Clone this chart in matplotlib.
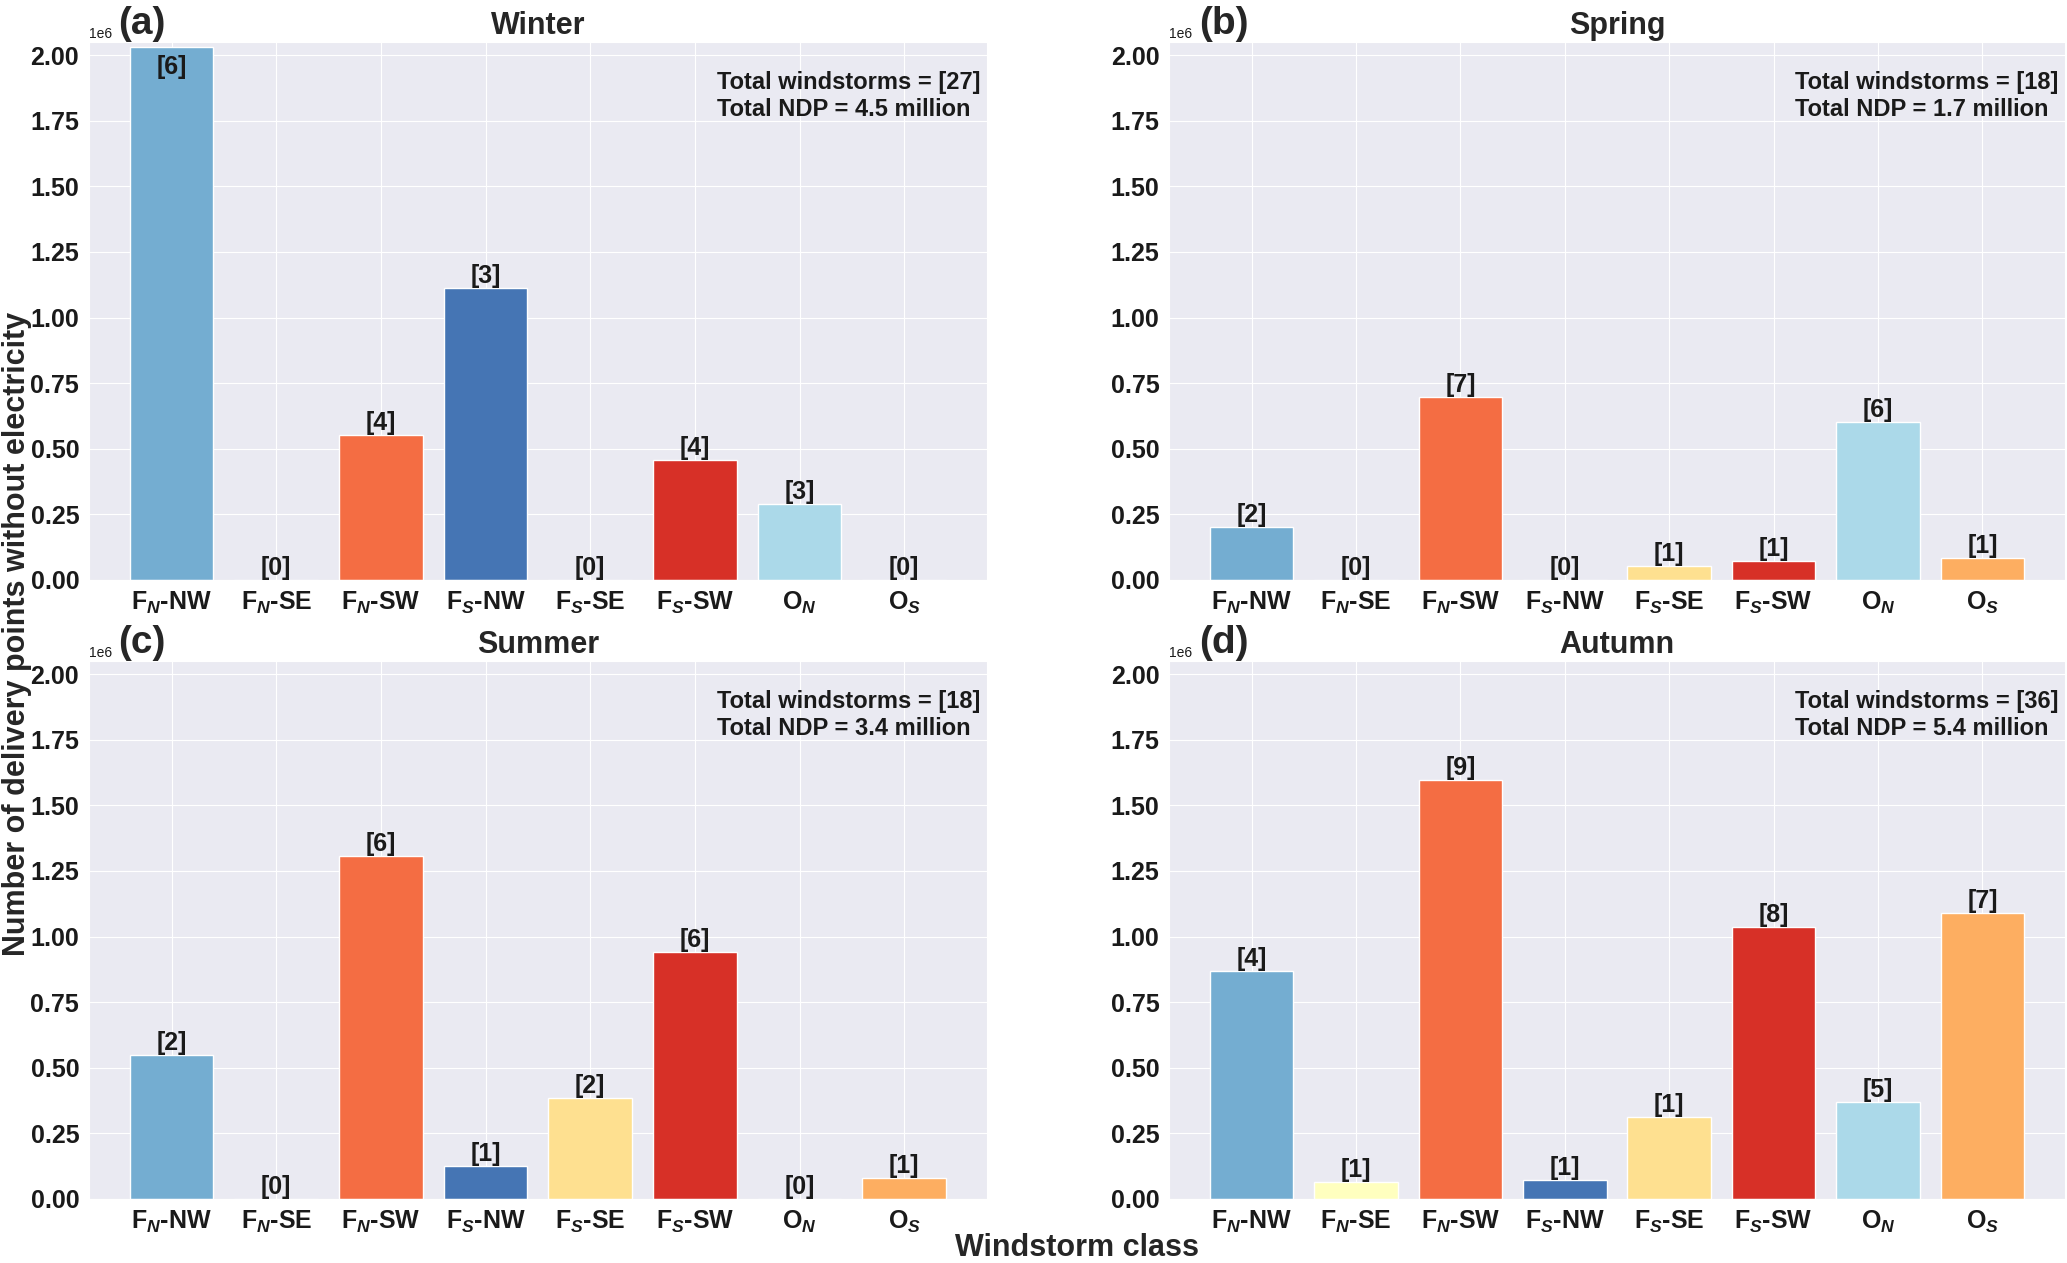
"""Seasonal windstorm impact: delivery points without electricity by windstorm class."""
import matplotlib
matplotlib.use("Agg")
import matplotlib.pyplot as plt
import seaborn as sns

classes = [r"F$_N$-NW", r"F$_N$-SE", r"F$_N$-SW", r"F$_S$-NW",
           r"F$_S$-SE", r"F$_S$-SW", r"O$_N$", r"O$_S$"]
class_colors = ["#74add1", "#ffffbf", "#f46d43", "#4575b4",
                "#fee090", "#d73027", "#abd9e9", "#fdae61"]

seasons = ["Winter", "Spring", "Summer", "Autumn"]
panel_tags = ["(a)", "(b)", "(c)", "(d)"]

ndp_winter = [2.031e6, 0, 0.553e6, 1.113e6, 0, 0.457e6, 0.289e6, 0]
ndp_spring = [0.200e6, 0, 0.697e6, 0, 0.054e6, 0.074e6, 0.603e6, 0.084e6]
ndp_summer = [0.547e6, 0, 1.306e6, 0.125e6, 0.383e6, 0.940e6, 0, 0.081e6]
ndp_autumn = [0.868e6, 0.063e6, 1.598e6, 0.073e6, 0.313e6, 1.037e6, 0.371e6, 1.090e6]

n_winter = [6, 0, 4, 3, 0, 4, 3, 0]
n_spring = [2, 0, 7, 0, 1, 1, 6, 1]
n_summer = [2, 0, 6, 1, 2, 6, 0, 1]
n_autumn = [4, 1, 9, 1, 1, 8, 5, 7]

total_storms = [27, 18, 18, 36]
total_ndp = [4.5, 1.7, 3.4, 5.4]

YMAX = 2.05e6
LABEL_CAP = 1.91e6

sns.set_style("darkgrid")
plt.rcParams["font.family"] = ["Liberation Sans", "DejaVu Sans"]
plt.rcParams["font.weight"] = "bold"
plt.rcParams["mathtext.fontset"] = "custom"
plt.rcParams["mathtext.rm"] = "Liberation Sans:bold"
plt.rcParams["mathtext.it"] = "Liberation Sans:italic"
plt.rcParams["mathtext.bf"] = "Liberation Sans:bold"

fig = plt.figure(figsize=(20.67, 12.63), dpi=100)
boxes = [
    [0.043, 0.5408, 0.4345, 0.4259],
    [0.5656, 0.5408, 0.4334, 0.4259],
    [0.043, 0.0507, 0.4345, 0.4259],
    [0.5656, 0.0507, 0.4334, 0.4259],
]
all_ndp = [ndp_winter, ndp_spring, ndp_summer, ndp_autumn]
all_n = [n_winter, n_spring, n_summer, n_autumn]

for i, season in enumerate(seasons):
    ax = fig.add_axes(boxes[i])
    x = range(len(classes))
    ax.bar(x, all_ndp[i], width=0.8, color=class_colors,
           edgecolor="white", linewidth=1)
    for xi, v, n in zip(x, all_ndp[i], all_n[i]):
        ax.text(xi, min(v, LABEL_CAP), f"[{n}]", ha="center", va="bottom",
                fontsize=18, fontweight="bold", color="#1a1a1a")
    ax.set_ylim(0, YMAX)
    ax.set_yticks([0, 0.25e6, 0.5e6, 0.75e6, 1.0e6, 1.25e6, 1.5e6, 1.75e6, 2.0e6])
    ax.set_xticks(list(x))
    ax.set_xticklabels(classes)
    ax.tick_params(axis="both", labelsize=18, colors="#1a1a1a")
    for lbl in ax.get_yticklabels():
        lbl.set_fontweight("bold")
    ax.yaxis.get_offset_text().set_fontsize(10)
    ax.yaxis.get_offset_text().set_fontweight("normal")
    ax.set_title(season, fontsize=22, fontweight="bold", pad=6)
    ax.text(0.033, 1.0, panel_tags[i], transform=ax.transAxes, ha="left",
            va="bottom", fontsize=28, fontweight="bold")
    ax.text(0.993, 0.946,
            f"Total windstorms = [{total_storms[i]}]\nTotal NDP = {total_ndp[i]} million",
            transform=ax.transAxes, ha="right", va="top", multialignment="left",
            fontsize=17, fontweight="bold", linespacing=1.2, color="#1a1a1a")

fig.text(0.008, 0.498, "Number of delivery points without electricity",
         rotation=90, ha="center", va="center", fontsize=22, fontweight="bold")
fig.text(0.521, 0.0, "Windstorm class", ha="center", va="bottom",
         fontsize=22, fontweight="bold")

fig.savefig("out.png", dpi=100)
